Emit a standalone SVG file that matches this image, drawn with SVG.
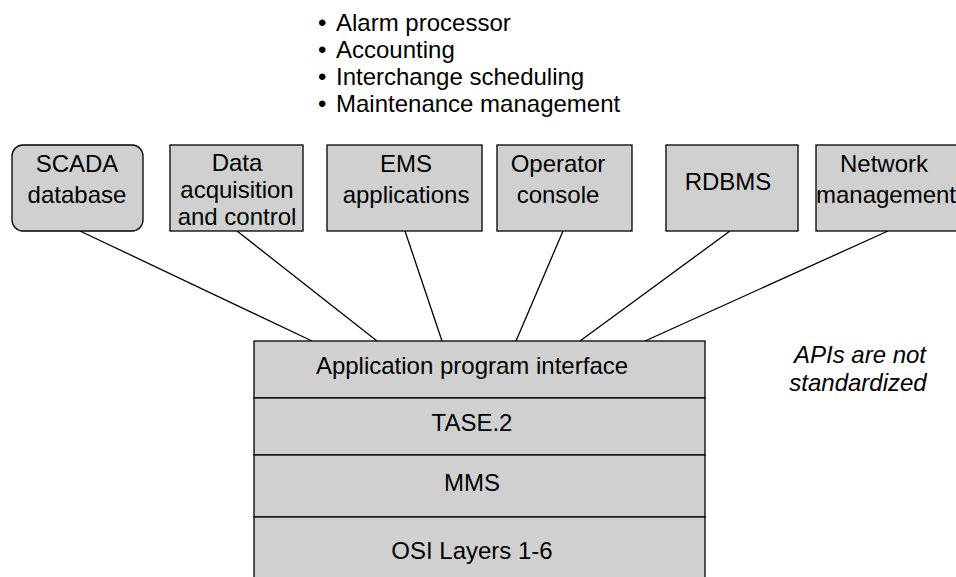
<svg xmlns="http://www.w3.org/2000/svg" width="956" height="577" viewBox="0 0 956 577">
<style>
.box{fill:#d0d0d0;stroke:#000;stroke-width:1.3}
.t{font-family:"Liberation Sans",Arial,sans-serif;font-size:24px;fill:#000;text-anchor:middle}
.l{font-family:"Liberation Sans",Arial,sans-serif;font-size:24px;fill:#000}
.i{font-family:"Liberation Sans",Arial,sans-serif;font-size:24px;font-style:italic;fill:#000;text-anchor:middle}
.c{stroke:#000;stroke-width:1.3;fill:none}
</style>
<rect width="956" height="577" fill="#fff"/>
<g id="bullets">
<text class="l" x="318" y="31">•</text>
<text class="l" x="336" y="31">Alarm processor</text>
<text class="l" x="318" y="58">•</text>
<text class="l" x="336" y="58">Accounting</text>
<text class="l" x="318" y="85">•</text>
<text class="l" x="336" y="85">Interchange scheduling</text>
<text class="l" x="318" y="112">•</text>
<text class="l" x="336" y="112">Maintenance management</text>
</g>
<g id="connectors">
<line class="c" x1="80" y1="231" x2="312" y2="341"/>
<line class="c" x1="237" y1="231" x2="377" y2="341"/>
<line class="c" x1="405" y1="231" x2="442" y2="341"/>
<line class="c" x1="563" y1="231" x2="516" y2="341"/>
<line class="c" x1="730" y1="231" x2="580" y2="341"/>
<line class="c" x1="888" y1="231" x2="645" y2="341"/>
</g>
<g id="scada">
<rect class="box" x="12" y="145" width="131" height="86" rx="11"/>
<text class="t" x="77" y="172">SCADA</text>
<text class="t" x="77" y="203">database</text>
</g>
<g id="daq">
<rect class="box" x="170" y="145" width="133" height="86"/>
<text class="t" x="237" y="171">Data</text>
<text class="t" x="237" y="198">acquisition</text>
<text class="t" x="237" y="225">and control</text>
</g>
<g id="ems">
<rect class="box" x="327" y="145" width="155" height="86"/>
<text class="t" x="406" y="172">EMS</text>
<text class="t" x="406" y="203">applications</text>
</g>
<g id="operator">
<rect class="box" x="497" y="145" width="135" height="86"/>
<text class="t" x="558" y="172">Operator</text>
<text class="t" x="558" y="203">console</text>
</g>
<g id="rdbms">
<rect class="box" x="666" y="145" width="132" height="86"/>
<text class="t" x="728" y="190">RDBMS</text>
</g>
<g id="netmgmt">
<rect class="box" x="816" y="145" width="150" height="86"/>
<text class="t" x="884" y="172">Network</text>
<text class="t" x="886" y="203">management</text>
</g>
<g id="stack">
<rect class="box" x="254" y="341" width="451" height="57"/>
<rect class="box" x="254" y="398" width="451" height="57"/>
<rect class="box" x="254" y="455" width="451" height="62"/>
<rect class="box" x="254" y="517" width="451" height="80"/>
<text class="t" x="472" y="374">Application program interface</text>
<text class="t" x="472" y="431">TASE.2</text>
<text class="t" x="472" y="491">MMS</text>
<text class="t" x="472" y="559">OSI Layers 1-6</text>
</g>
<g id="note">
<text class="i" x="860" y="363">APIs are not</text>
<text class="i" x="858" y="391">standardized</text>
</g>
</svg>
